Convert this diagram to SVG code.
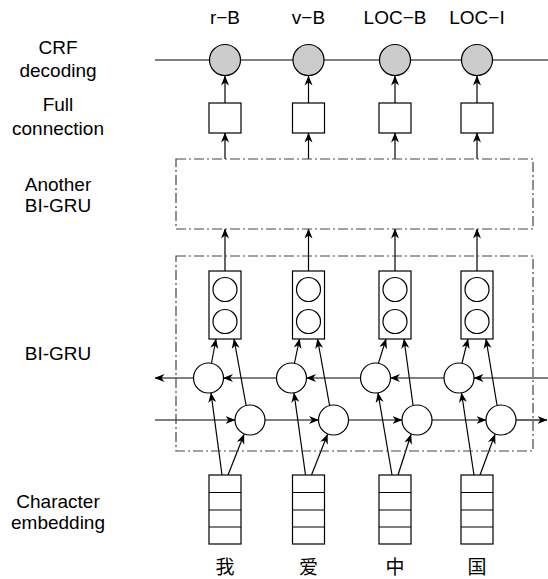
<svg xmlns="http://www.w3.org/2000/svg" width="548" height="579" viewBox="0 0 548 579">
<style>
.t{font-family:"Liberation Sans","Helvetica",Arial,sans-serif;font-size:19px;fill:#000;text-anchor:middle}
.cj{font-family:"Noto Sans CJK SC","Noto Sans",sans-serif;font-size:19px;fill:#000;text-anchor:middle}
.ln{stroke:#000;stroke-width:1.2;fill:none}
.ar{stroke:#000;stroke-width:1.2;fill:none;marker-end:url(#ah)}
.box{stroke:#000;stroke-width:1.2;fill:#fff}
.crf{stroke:#000;stroke-width:1.2;fill:#cccccc}
.dd{stroke:#444;stroke-width:1.2;fill:none;stroke-dasharray:10 3 2 3}
</style>
<defs>
<marker id="ah" markerUnits="userSpaceOnUse" markerWidth="10" markerHeight="10" viewBox="0 0 10 10" refX="9.5" refY="5" orient="auto">
<path d="M0,1 L10,5 L0,9 L3,5 Z" fill="#000"/>
</marker>
</defs>
<rect width="548" height="579" fill="#fff"/>

<g id="labels-left">
<text class="t" x="58" y="54">CRF</text>
<text class="t" x="58" y="77">decoding</text>
<text class="t" x="58" y="111">Full</text>
<text class="t" x="58" y="135">connection</text>
<text class="t" x="58" y="191">Another</text>
<text class="t" x="58" y="212">BI-GRU</text>
<text class="t" x="58" y="360">BI-GRU</text>
<text class="t" x="58" y="508">Character</text>
<text class="t" x="58" y="529">embedding</text>
</g>

<g id="connectors">
<line class="ln" x1="155" y1="60" x2="548" y2="60"/>
<line class="ar" x1="225" y1="103" x2="225" y2="76"/>
<line class="ar" x1="308.5" y1="103" x2="308.5" y2="76"/>
<line class="ar" x1="395" y1="103" x2="395" y2="76"/>
<line class="ar" x1="477" y1="103" x2="477" y2="76"/>
<line class="ar" x1="225" y1="159" x2="225" y2="133"/>
<line class="ar" x1="308.5" y1="159" x2="308.5" y2="133"/>
<line class="ar" x1="395" y1="159" x2="395" y2="133"/>
<line class="ar" x1="477" y1="159" x2="477" y2="133"/>
<line class="ar" x1="225" y1="271" x2="225" y2="229"/>
<line class="ar" x1="308.5" y1="271" x2="308.5" y2="229"/>
<line class="ar" x1="395" y1="271" x2="395" y2="229"/>
<line class="ar" x1="477" y1="271" x2="477" y2="229"/>
<line class="ar" x1="548" y1="378" x2="474" y2="378"/>
<line class="ar" x1="444" y1="378" x2="390.5" y2="378"/>
<line class="ar" x1="360.5" y1="378" x2="306.5" y2="378"/>
<line class="ar" x1="276.5" y1="378" x2="223.5" y2="378"/>
<line class="ar" x1="193.5" y1="378" x2="155" y2="378"/>
<line class="ar" x1="155" y1="420" x2="235" y2="420"/>
<line class="ar" x1="265" y1="420" x2="318.5" y2="420"/>
<line class="ar" x1="348.5" y1="420" x2="402" y2="420"/>
<line class="ar" x1="432" y1="420" x2="486" y2="420"/>
<line class="ar" x1="516" y1="420" x2="547" y2="420"/>
<line class="ar" x1="211.5" y1="363" x2="216" y2="339"/>
<line class="ar" x1="246" y1="405" x2="234" y2="339"/>
<line class="ar" x1="294.5" y1="363" x2="299.5" y2="339"/>
<line class="ar" x1="329.5" y1="405" x2="317.5" y2="339"/>
<line class="ar" x1="378.5" y1="363" x2="386" y2="339"/>
<line class="ar" x1="413" y1="405" x2="404" y2="339"/>
<line class="ar" x1="462" y1="363" x2="468" y2="339"/>
<line class="ar" x1="497" y1="405" x2="486" y2="339"/>
<line class="ar" x1="222" y1="475" x2="211" y2="393"/>
<line class="ar" x1="228" y1="475" x2="244" y2="434.5"/>
<line class="ar" x1="305.5" y1="475" x2="294" y2="393"/>
<line class="ar" x1="311.5" y1="475" x2="327.5" y2="434.5"/>
<line class="ar" x1="392" y1="475" x2="378" y2="393"/>
<line class="ar" x1="398" y1="475" x2="411" y2="434.5"/>
<line class="ar" x1="474" y1="475" x2="461.5" y2="393"/>
<line class="ar" x1="480" y1="475" x2="495" y2="434.5"/>
</g>

<g id="crf">
<circle class="crf" cx="225" cy="60" r="15.5"/>
<circle class="crf" cx="308.5" cy="60" r="15.5"/>
<circle class="crf" cx="395" cy="60" r="15.5"/>
<circle class="crf" cx="477" cy="60" r="15.5"/>
<text class="t" x="225" y="24">r−B</text>
<text class="t" x="308.5" y="24">v−B</text>
<text class="t" x="395" y="24">LOC−B</text>
<text class="t" x="477" y="24">LOC−I</text>
</g>

<g id="full-connection">
<rect class="box" x="209" y="103" width="32" height="30"/>
<rect class="box" x="292.5" y="103" width="32" height="30"/>
<rect class="box" x="379" y="103" width="32" height="30"/>
<rect class="box" x="461" y="103" width="32" height="30"/>
</g>

<g id="another-bigru">
<rect class="dd" x="176" y="159" width="357" height="70"/>
</g>

<g id="bigru">
<rect class="dd" x="176" y="256" width="357" height="195"/>
<g id="col1"><rect class="box" x="209" y="271" width="32" height="68"/><circle class="ln" cx="225" cy="289.5" r="12"/><circle class="ln" cx="225" cy="321.5" r="12"/></g>
<g id="col2"><rect class="box" x="292.5" y="271" width="32" height="68"/><circle class="ln" cx="308.5" cy="289.5" r="12"/><circle class="ln" cx="308.5" cy="321.5" r="12"/></g>
<g id="col3"><rect class="box" x="379" y="271" width="32" height="68"/><circle class="ln" cx="395" cy="289.5" r="12"/><circle class="ln" cx="395" cy="321.5" r="12"/></g>
<g id="col4"><rect class="box" x="461" y="271" width="32" height="68"/><circle class="ln" cx="477" cy="289.5" r="12"/><circle class="ln" cx="477" cy="321.5" r="12"/></g>
<circle class="box" cx="208.5" cy="378" r="15"/>
<circle class="box" cx="291.5" cy="378" r="15"/>
<circle class="box" cx="375.5" cy="378" r="15"/>
<circle class="box" cx="459" cy="378" r="15"/>
<circle class="box" cx="250" cy="420" r="15"/>
<circle class="box" cx="333.5" cy="420" r="15"/>
<circle class="box" cx="417" cy="420" r="15"/>
<circle class="box" cx="501" cy="420" r="15"/>
</g>

<g id="embedding">
<g id="emb1"><rect class="box" x="209" y="475" width="32" height="69"/><path class="ln" d="M209,492.5H241M209,510H241M209,527H241"/></g>
<g id="emb2"><rect class="box" x="292.5" y="475" width="32" height="69"/><path class="ln" d="M292.5,492.5H324.5M292.5,510H324.5M292.5,527H324.5"/></g>
<g id="emb3"><rect class="box" x="379" y="475" width="32" height="69"/><path class="ln" d="M379,492.5H411M379,510H411M379,527H411"/></g>
<g id="emb4"><rect class="box" x="461" y="475" width="32" height="69"/><path class="ln" d="M461,492.5H493M461,510H493M461,527H493"/></g>
</g>

<g id="chars">
<text class="cj" x="225" y="574">我</text>
<text class="cj" x="308.5" y="574">爱</text>
<text class="cj" x="395" y="574">中</text>
<text class="cj" x="477" y="574">国</text>
</g>
</svg>
